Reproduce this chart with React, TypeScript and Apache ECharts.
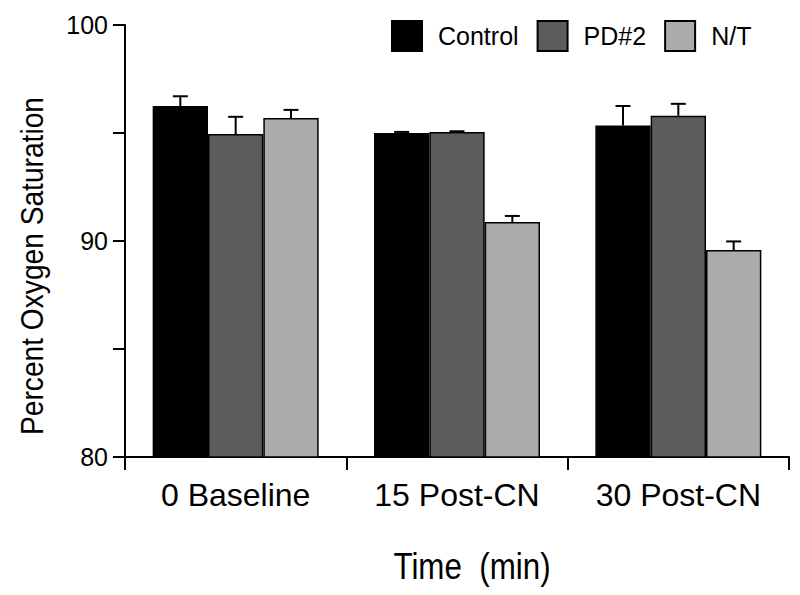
import React, { useEffect, useRef } from "react";
import * as echarts from "echarts";

const categories = ["0 Baseline", "15 Post-CN", "30 Post-CN"];
const seriesNames = ["Control", "PD#2", "N/T"];
const controlValues = [96.25, 95.0, 95.35];
const pd2Values = [94.95, 95.05, 95.8];
const ntValues = [95.7, 90.88, 89.58];
const controlErrors = [0.45, 0.05, 0.9];
const pd2Errors = [0.8, 0.03, 0.55];
const ntErrors = [0.37, 0.28, 0.4];
const yTicks = [80, 90, 100];

const FONT = "Liberation Sans, Arial, sans-serif";

export default function App() {
  const ref = useRef<HTMLDivElement>(null);
  useEffect(() => {
    if (!ref.current) return;
    const chart = echarts.init(ref.current, null, { renderer: "svg" });
    const values = [controlValues, pd2Values, ntValues];
    const errors = [controlErrors, pd2Errors, ntErrors];
    const colors = ["#000000", "#5c5c5c", "#ababab"];
    const barSeries = seriesNames.map((name, i) => ({
      name,
      type: "bar",
      data: values[i],
      barGap: "0%",
      barCategoryGap: "25%",
      itemStyle: { color: colors[i], borderColor: "#000", borderWidth: 1.5 },
      z: 2,
    }));
    const errSeries = seriesNames.map((name, i) => ({
      name: name + " err",
      type: "custom",
      z: 5,
      silent: true,
      data: values[i].map((v, k) => [k, v, errors[i][k]]),
      renderItem: (params: any, api: any) => {
        const cat = api.value(0);
        const top = api.value(1);
        const err = api.value(2);
        const p0 = api.coord([cat, top]);
        const p1 = api.coord([cat, top + err]);
        const band = api.size([1, 0])[0];
        const bw = (band * 0.75) / 3;
        const x = p0[0] + (i - 1) * bw;
        const style = { stroke: "#000", lineWidth: 2, fill: "none" };
        return {
          type: "group",
          children: [
            { type: "line", shape: { x1: x, y1: p0[1], x2: x, y2: p1[1] }, style },
            { type: "line", shape: { x1: x - 7.5, y1: p1[1], x2: x + 7.5, y2: p1[1] }, style },
          ],
        };
      },
    }));
    chart.setOption({
      animation: false,
      backgroundColor: "#ffffff",
      textStyle: { fontFamily: FONT },
      grid: { left: 125, right: 11, top: 25, bottom: 138, containLabel: false },
      legend: {
        data: seriesNames,
        left: 386,
        top: 15,
        itemWidth: 30,
        itemHeight: 30,
        itemGap: 18,
        icon: "rect",
        textStyle: { fontSize: 25, color: "#000", fontFamily: FONT, padding: [0, 0, 0, 11] },
      },
      xAxis: {
        type: "category",
        data: categories,
        axisLine: { lineStyle: { color: "#000", width: 2 } },
        axisTick: { show: true, interval: 0, length: 13, lineStyle: { color: "#000", width: 2 } },
        axisLabel: { interval: 0, hideOverlap: false, fontSize: 32, color: "#000", margin: 22, fontFamily: FONT },
      },
      yAxis: {
        type: "value",
        min: 80,
        max: 100,
        interval: 5,
        splitLine: { show: false },
        axisLine: { show: true, lineStyle: { color: "#000", width: 2 } },
        axisTick: { show: true, length: 12, lineStyle: { color: "#000", width: 2 } },
        axisLabel: {
          fontSize: 25,
          color: "#000",
          margin: 17,
          fontFamily: FONT,
          formatter: (v: number) => (yTicks.includes(v) ? String(v) : ""),
        },
      },
      graphic: [
        {
          type: "text",
          x: 32,
          y: 266,
          rotation: Math.PI / 2,
          scaleX: 0.88,
          style: {
            text: "Percent Oxygen Saturation",
            fontSize: 32,
            fontFamily: FONT,
            fill: "#000",
            textAlign: "center",
            textVerticalAlign: "middle",
          },
        },
        {
          type: "text",
          x: 472,
          y: 566,
          scaleX: 0.87,
          style: {
            text: "Time  (min)",
            fontSize: 36,
            fontFamily: FONT,
            fill: "#000",
            textAlign: "center",
            textVerticalAlign: "middle",
          },
        },
      ],
      series: [...barSeries, ...errSeries],
    });
    return () => chart.dispose();
  }, []);
  return <div ref={ref} style={{ width: 800, height: 595, position: "absolute", left: 0, top: 0 }} />;
}
